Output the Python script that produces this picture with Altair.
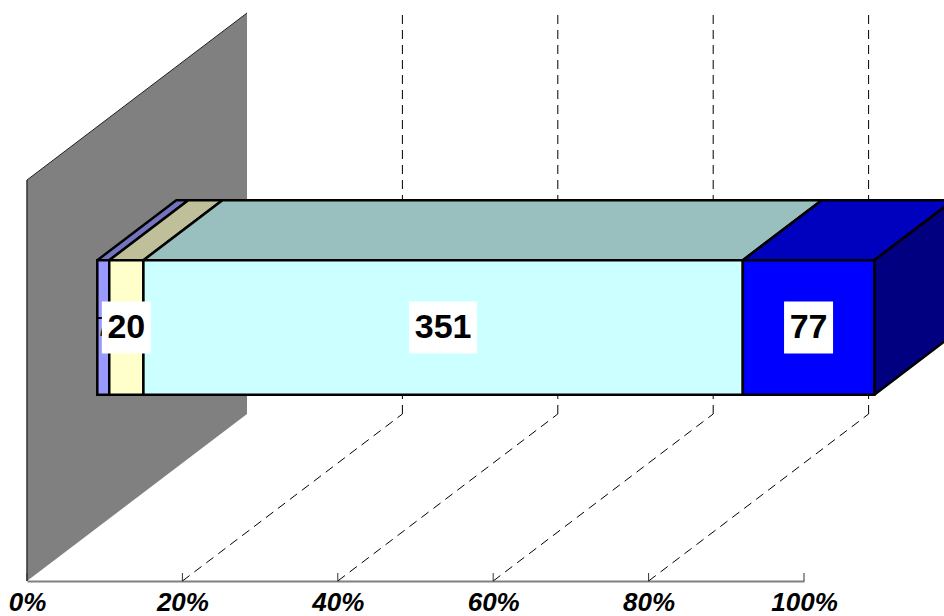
import altair as alt
import pandas as pd

# Series of the single stacked bar
series = ["A", "B", "C", "D"]
counts = [7, 20, 351, 77]
front_colors = ["#9999FF", "#FFFFCC", "#CCFFFF", "#0000FF"]
top_colors = ["#7373BF", "#BFBF99", "#99BFBF", "#0000BF"]
side_color = "#000080"
wall_color = "#808080"

axis_ticks = [0, 20, 40, 60, 80, 100]
grid_ticks = [20, 40, 60, 80]

# Oblique projection of the chart box: full depth in axis units
PX_PER_PCT = 7.77
DEPTH_PX = 220
DEPTH_X = DEPTH_PX / PX_PER_PCT
DEPTH_Y = 167
WALL_H = 401

# Depth range and height range of the bar inside the box
BAR_Z0 = 70.3 / DEPTH_PX
BAR_Z1 = BAR_Z0 + 79 / DEPTH_PX
BAR_H0 = 133
BAR_H1 = 267.4

LABEL_FONT = "Liberation Sans"


def px(p, z=0.0):
    return p + DEPTH_X * z


def py(h, z=0.0):
    return h + DEPTH_Y * z


total = sum(counts)
edges = [0.0]
for c in counts:
    edges.append(edges[-1] + c / total * 100)

xs = alt.Scale(domain=[0, 100], nice=False, zero=False)
ys = alt.Scale(domain=[0, 581], nice=False, zero=False)
x_axis = alt.Axis(
    values=axis_ticks,
    labelExpr="datum.value + '%'",
    title=None,
    grid=False,
    ticks=False,
    domainColor="#808080",
    domainWidth=2,
    labelFont=LABEL_FONT,
    labelFontSize=26,
    labelFontWeight="bold",
    labelFontStyle="italic",
    labelColor="black",
    labelPadding=8,
    labelAngle=0,
    labelAlign="center",
    labelFlush=False,
    labelOverlap=False,
)
X = alt.X("x:Q", scale=xs, axis=x_axis)
Y = alt.Y("y:Q", scale=ys, axis=None)
X2 = alt.X2("x2:Q")
Y2 = alt.Y2("y2:Q")

# Back wall
wall = pd.DataFrame(
    [
        {"x": px(0, z), "y": py(0, z), "y2": py(WALL_H, z)}
        for z in (0, 1)
    ]
)
wall_layer = alt.Chart(wall).mark_area(color=wall_color).encode(x=X, y=Y, y2=Y2)
wall_top = (
    alt.Chart(wall.assign(y=wall["y2"]))
    .mark_line(color="#222222", strokeWidth=1)
    .encode(x=X, y=Y)
)
wall_edge = (
    alt.Chart(pd.DataFrame({"x": [0], "y": [0], "y2": [WALL_H]}))
    .mark_rule(color="#333333", strokeWidth=1.5)
    .encode(x=X, y=Y, y2=Y2)
)

# Dashed gridlines on floor and back wall
floor_rows, back_rows = [], []
for t in grid_ticks:
    for z in (0, 1):
        floor_rows.append({"x": px(t, z), "y": py(0, z), "tick": t, "o": z})
    for i, h in enumerate((0, WALL_H)):
        back_rows.append({"x": px(t, 1), "y": py(h, 1), "tick": t, "o": i})
dash = [9, 6]
floor_layer = (
    alt.Chart(pd.DataFrame(floor_rows))
    .mark_line(color="black", strokeWidth=1, strokeDash=dash)
    .encode(x=X, y=Y, detail="tick:N", order="o:Q")
)
back_layer = (
    alt.Chart(pd.DataFrame(back_rows))
    .mark_line(color="black", strokeWidth=1, strokeDash=dash)
    .encode(x=X, y=Y, detail="tick:N", order="o:Q")
)

# Inward ticks on the axis
tick_layer = (
    alt.Chart(pd.DataFrame({"x": axis_ticks, "y": [0] * 6, "y2": [8] * 6}))
    .mark_rule(color="#333333", strokeWidth=1)
    .encode(x=X, y=Y, y2=Y2)
)

# Top faces of the bar segments
top_rows = []
for i, s in enumerate(series):
    for z in (BAR_Z0, BAR_Z1):
        top_rows.append(
            {
                "x": px(edges[i], z),
                "x2": px(edges[i + 1], z),
                "y": py(BAR_H1, z),
                "face": s,
                "fill": top_colors[i],
            }
        )
top_layer = (
    alt.Chart(pd.DataFrame(top_rows))
    .mark_area(stroke="black", strokeWidth=2.5, strokeJoin="round")
    .encode(
        x=X,
        x2=X2,
        y=Y,
        detail="face:N",
        color=alt.Color("fill:N", scale=None),
    )
)

# Right end face
side_rows = [
    {"x": px(100, z), "y": py(BAR_H0, z), "y2": py(BAR_H1, z)} for z in (BAR_Z0, BAR_Z1)
]
side_layer = (
    alt.Chart(pd.DataFrame(side_rows))
    .mark_area(color=side_color, stroke="black", strokeWidth=2.5, strokeJoin="round")
    .encode(x=X, y=Y, y2=Y2)
)

# Front faces
front = pd.DataFrame(
    {
        "x": [px(edges[i], BAR_Z0) for i in range(4)],
        "x2": [px(edges[i + 1], BAR_Z0) for i in range(4)],
        "y": [py(BAR_H0, BAR_Z0)] * 4,
        "y2": [py(BAR_H1, BAR_Z0)] * 4,
        "fill": front_colors,
    }
)
front_layer = (
    alt.Chart(front)
    .mark_rect(stroke="black", strokeWidth=2.5)
    .encode(x=X, x2=X2, y=Y, y2=Y2, color=alt.Color("fill:N", scale=None))
)

# Value labels; the narrowest segment's label sits under its neighbour's box
centers = [(px(edges[i], BAR_Z0) + px(edges[i + 1], BAR_Z0)) / 2 for i in range(4)]
label_y = py((BAR_H0 + BAR_H1) / 2, BAR_Z0)
text_style = dict(font=LABEL_FONT, color="black", align="center", baseline="middle", dy=1)
hidden_label = (
    alt.Chart(pd.DataFrame({"x": [centers[0]], "y": [label_y], "t": [str(counts[0])]}))
    .mark_text(fontSize=28, **text_style)
    .encode(x=X, y=Y, text="t:N")
)
box_half = {2: 24.5, 3: 34.0}
boxes = pd.DataFrame(
    {
        "x": [centers[i] - box_half[len(str(counts[i]))] / PX_PER_PCT for i in (1, 2, 3)],
        "x2": [centers[i] + box_half[len(str(counts[i]))] / PX_PER_PCT for i in (1, 2, 3)],
        "y": [label_y - 26] * 3,
        "y2": [label_y + 26] * 3,
    }
)
box_layer = alt.Chart(boxes).mark_rect(color="white").encode(x=X, x2=X2, y=Y, y2=Y2)
label_layer = (
    alt.Chart(
        pd.DataFrame(
            {
                "x": centers[1:],
                "y": [label_y] * 3,
                "t": [str(c) for c in counts[1:]],
            }
        )
    )
    .mark_text(fontSize=34, fontWeight="bold", **text_style)
    .encode(x=X, y=Y, text="t:N")
)

chart = alt.layer(
    wall_layer,
    wall_top,
    wall_edge,
    floor_layer,
    back_layer,
    tick_layer,
    top_layer,
    side_layer,
    front_layer,
    hidden_label,
    box_layer,
    label_layer,
).properties(
    width=777,
    height=581,
    padding={"left": 27, "top": 0, "right": 140, "bottom": 35},
    autosize=alt.AutoSizeParams(type="none"),
).configure_view(stroke=None)

chart.save("out.html", embed_options={"renderer": "svg", "actions": False})
